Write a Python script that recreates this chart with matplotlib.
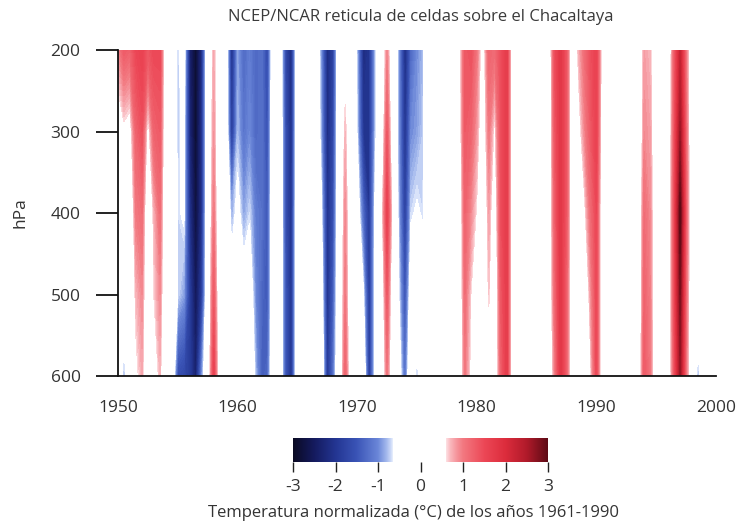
import numpy as np
import matplotlib
matplotlib.use("Agg")
import matplotlib.pyplot as plt
from matplotlib.colors import LinearSegmentedColormap, Normalize
from matplotlib.cm import ScalarMappable

plt.rcParams['font.family'] = ['Open Sans', 'DejaVu Sans']

# ---- data: normalized temperature anomaly (°C), half-year grid 1950.0 .. 2000.0
years = np.arange(1950.0, 2000.01, 0.5)
levels_hpa = [200, 300, 400, 500, 600]

p200 = [0.9, 1.3, 1.2, 1.5, 1.6, 1.3, 1.5, 1.5, 0, 0,
        -0.8, -0.3, -2.4, -2.9, -2.2, 0, 0.75, 0, 0, -2.2,
        -0.9, -1.3, -1.1, -1.3, -1.2, -1.7, 0, 0, -1.7, -2.2,
        0, 0, 0, 0, -1.0, -2.2, -1.8, 0, 0.4, 0,
        -0.8, -2.2, -2.0, -0.8, 0, 0.9, 0, -1.0, -2.2, -1.3,
        -1.0, -0.8, 0, -0.7, 0, 0, 0, 0.3, 1.3, 1.4,
        1.0, 0.3, 1.2, 1.1, 1.4, 1.7, 0, 0, 0, 0,
        0, 0, 0, 1.4, 1.8, 1.3, 0, 0.7, 1.1, 1.4,
        1.6, 0.3, 0, 0, 0, 0, 0, 0, 0.8, 0.7,
        0, 0, 0, 1.2, 2.2, 1.0, 0, 0, 0, 0,
        0]
p300 = [0.3, 0.5, 0.4, 1.2, 1.4, 0.4, 1.2, 1.3, 0, 0,
        -0.8, -0.5, -2.3, -2.9, -2.1, 0, 0.85, 0, 0, -2.0,
        -0.8, -1.2, -1.0, -1.3, -1.2, -1.6, 0, 0, -1.6, -2.2,
        0, 0, 0, 0, -0.9, -2.2, -1.7, 0, 0.7, 0,
        -0.7, -2.0, -2.0, -0.8, 0, 1.3, 0, -1.0, -2.1, -1.0,
        -0.9, -0.75, 0, -0.5, 0, -0.7, 0, 0.2, 1.3, 1.2,
        0.8, 0.2, 1.0, 0.5, 1.4, 1.7, 0, 0, 0, 0,
        0, 0, 0, 1.3, 1.8, 1.3, 0, 0.4, 0.9, 1.3,
        1.6, 0.2, 0, 0, 0, 0, 0, 0, 0.9, 0.8,
        0, 0, 0, 1.3, 2.6, 1.1, 0, 0, 0, 0,
        0]
p400 = [0, 0, 0, 1.0, 1.1, 0, 0.7, 1.1, 0, 0,
        -0.7, -0.6, -2.1, -2.8, -2.1, 0, 1.0, 0, 0, -0.9,
        -0.5, -0.9, -0.7, -1.1, -1.2, -1.5, 0, 0, -1.6, -2.1,
        0, 0, 0, 0, -0.6, -2.1, -1.6, 0, 0.9, 0,
        -0.3, -1.3, -2.0, -0.6, 0.3, 1.6, 0.3, -0.9, -1.9, -0.7,
        -0.6, -0.7, 0, 0, 0, -0.7, 0, 0, 1.2, 0.9,
        0.55, 0, 0.8, 0.2, 1.4, 1.7, 0, 0, 0, 0,
        0, 0, 0, 1.2, 1.8, 1.3, 0, 0, 0.5, 1.1,
        1.5, 0, 0, 0, 0, 0, 0, 0, 1.1, 0.9,
        0, 0, 0, 1.4, 3.0, 1.2, 0, 0, 0, 0,
        0]
p500 = [0, -0.4, 0, 0.7, 0.9, 0, 0.6, 0.9, 0, 0,
        -0.7, -0.9, -1.9, -2.6, -1.9, 0, 1.3, 0, 0, -0.3,
        0, -0.4, -0.3, -1.0, -1.3, -1.5, 0, 0, -1.5, -2.1,
        0, 0, 0, 0, -0.3, -2.1, -1.4, 0, 1.0, 0,
        0, -0.6, -2.0, -0.5, 0, 1.3, 0, -0.7, -1.6, -0.3,
        -0.4, -0.3, 0, 0, 0, -0.4, 0, 0, 1.1, 0.6,
        0.3, 0, 0.65, 0, 1.3, 1.7, 0, 0, 0, 0,
        0, 0, 0, 1.1, 1.8, 1.2, 0, 0, 0, 0.8,
        1.5, 0, 0, 0, 0, 0, 0, 0, 1.2, 0.95,
        0, 0, 0, 1.4, 2.8, 1.1, 0, -0.3, 0, 0,
        0]
p600 = [0, -0.9, 0, 0.5, 0.75, 0, 0.3, 0.7, 0, 0,
        -1.6, -1.7, -1.9, -2.4, -1.0, 0, 1.6, 0, 0, 0,
        0, 0, 0, -0.8, -1.4, -1.3, 0, 0, -1.5, -2.1,
        0, 0, 0, 0, 0, -2.0, -1.2, 0, 1.2, 0,
        0, 0, -2.0, -0.5, 0, 1.0, 0, -0.4, -1.3, 0,
        -0.85, 0, 0, 0, 0, 0, 0, 0, 1.0, 0.5,
        0, 0, 0.3, 0, 1.2, 1.7, 0, 0, 0, 0,
        0, 0, 0, 0.9, 1.8, 1.2, 0, 0, 0, 0.5,
        1.5, 0, 0, 0, 0, 0, 0, 0, 1.3, 1.0,
        0, 0, 0, 1.3, 2.6, 1.0, 0, -0.9, 0, 0,
        0]

cbar_ticks = [-3, -2, -1, 0, 1, 2, 3]
xticks = [1950, 1960, 1970, 1980, 1990, 2000]
yticks = [200, 300, 400, 500, 600]

title = "NCEP/NCAR reticula de celdas sobre el Chacaltaya"
cbar_label = "Temperatura normalizada (°C) de los años 1961-1990"

# ---- colormap: blue - white gap - red
stops = [(-3.0, '#0a0a22'), (-2.5, '#141a5e'), (-2.0, '#233592'),
         (-1.5, '#3a54b6'), (-1.0, '#6a86d8'), (-0.8, '#a3b8ec'),
         (-0.7, '#cbd8f7'), (-0.655, '#e6edfc'), (-0.65, '#ffffff'),
         (0.59, '#ffffff'), (0.6, '#fde2e5'), (0.7, '#f9b9be'),
         (0.85, '#f5959c'), (1.0, '#f27880'), (1.5, '#ec4756'),
         (2.0, '#dc2c3c'), (2.5, '#b01a2a'), (3.0, '#5c0a14')]
cmap = LinearSegmentedColormap.from_list('anom', [((v + 3) / 6, c) for v, c in stops], N=1024)
norm = Normalize(-3, 3)

Z = np.array([p200, p300, p400, p500, p600])

fig = plt.figure(figsize=(7.47, 5.24), dpi=100, facecolor='white')
ax = fig.add_axes([118 / 747, 1 - 376 / 524, (716 - 118) / 747, (376 - 50) / 524])

cs = ax.contourf(years, levels_hpa, Z, levels=np.linspace(-3, 3, 121),
                 cmap=cmap, norm=norm, extend='both')
cs.set_edgecolor('face')
cs.set_linewidth(0.2)

ax.set_xlim(1950, 2000)
ax.set_ylim(600, 200)
ax.set_xticks(xticks)
ax.set_yticks(yticks)
for s in ['top', 'right']:
    ax.spines[s].set_visible(False)
for s in ['left', 'bottom']:
    ax.spines[s].set_linewidth(1.3)
    ax.spines[s].set_color('#111111')
ax.tick_params(axis='y', length=16, width=1.3, direction='out', pad=11,
               labelsize=12.5, labelcolor='#333333', color='#111111')
ax.tick_params(axis='x', length=0, pad=17, labelsize=12.5, labelcolor='#333333')

fig.text(421 / 747, 1 - 17 / 524, title, ha='center', va='center',
         fontsize=12, color='#3a3a3a')
fig.text(20 / 747, 1 - 213 / 524, 'hPa', ha='center', va='center',
         rotation=90, fontsize=12.5, color='#333333')

cax = fig.add_axes([293 / 747, 1 - 462 / 524, 255 / 747, 24 / 524])
cb = fig.colorbar(ScalarMappable(norm=norm, cmap=cmap), cax=cax, orientation='horizontal')
cb.outline.set_visible(False)
cb.set_ticks(cbar_ticks)
cb.set_ticklabels([str(t) for t in cbar_ticks])
cax.tick_params(length=7, width=1.0, color='#222222', pad=5, labelsize=12.5,
                labelcolor='#333333')
fig.text(414 / 747, 1 - 513 / 524, cbar_label, ha='center', va='center',
         fontsize=12, color='#333333')

fig.savefig('out.png', dpi=100, facecolor='white')
